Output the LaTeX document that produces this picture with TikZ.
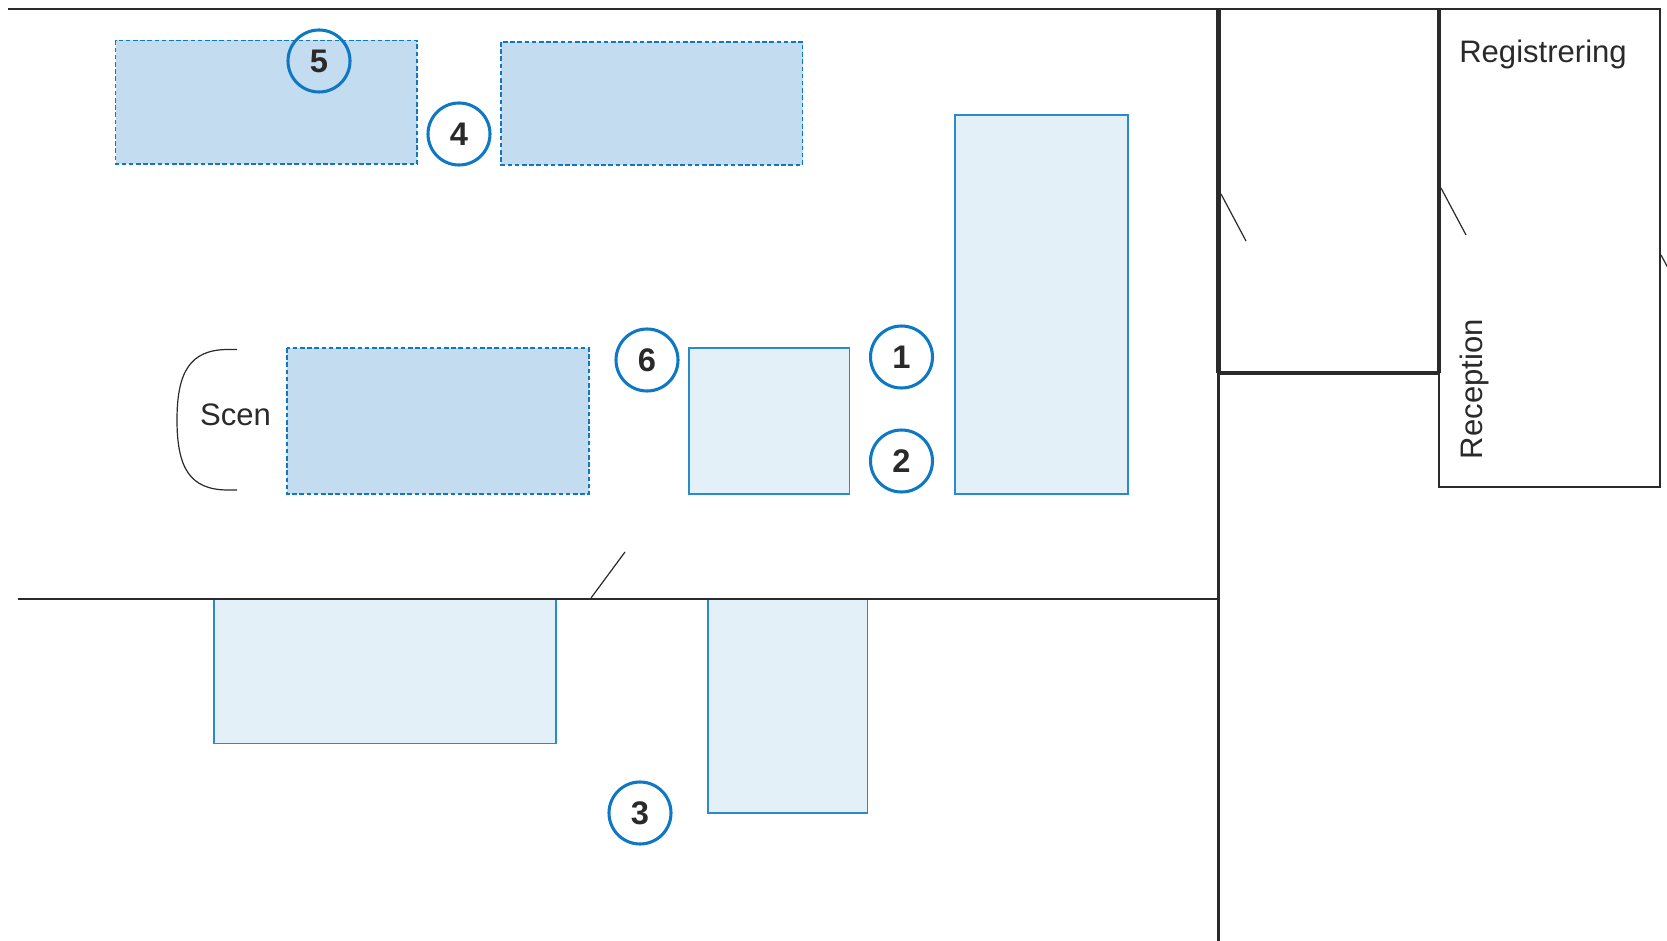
\documentclass[tikz,border=0pt]{standalone}
\usepackage{fontspec}
\setmainfont{Liberation Sans}
\definecolor{bluel}{HTML}{2A8AD0}
\definecolor{bluec}{HTML}{0F78C4}
\definecolor{filld}{HTML}{C4DCEF}
\definecolor{filll}{HTML}{E3F0F8}
\definecolor{wallc}{HTML}{2A2A2A}
\tikzset{
  solidroom/.style={draw=bluel,fill=filll,line width=1pt},
  dashroom/.style={draw=bluec,fill=filld,line width=1pt,dash pattern=on 3.4pt off 2pt},
  wall/.style={draw=wallc,line width=2.2pt},
  thickwall/.style={draw=wallc,line width=3.4pt},
  doorleaf/.style={draw=wallc,line width=0.9pt},
  numcircle/.style={circle,draw=bluec,line width=2.3pt,minimum size=46.5pt,inner sep=0pt,font=\bfseries\fontsize{24.5}{24.5}\selectfont,text=wallc},
  lbl/.style={font=\fontsize{23.3}{23.3}\selectfont,text=wallc,inner sep=0pt}
}
\begin{document}
\begin{tikzpicture}[x=0.75pt,y=-0.75pt]
\useasboundingbox (0,0) rectangle (1667,941);
\fill[white] (0,0) rectangle (1667,941);
% zones
\draw[dashroom] (115.5,40.5) rectangle (417,164);
\draw[dashroom] (501,42) rectangle (802.5,165);
\draw[dashroom] (287,348) rectangle (589,494);
\draw[solidroom] (689,348) rectangle (849.5,494);
\draw[solidroom] (955,115) rectangle (1128,494);
\draw[solidroom] (214,599) rectangle (556,743.5);
\draw[solidroom] (708,599) rectangle (867.5,813);
% walls
\coordinate (tl) at (8,9);
\coordinate (tr) at (1660,9);
\coordinate (wa) at (1218.5,9);
\coordinate (wb) at (1218.5,373);
\coordinate (wc) at (1218.5,941);
\coordinate (wd) at (1439,9);
\coordinate (we) at (1439,373);
\coordinate (wf) at (1439,487);
\coordinate (wg) at (1660,487);
\coordinate (hl) at (18,599);
\coordinate (hr) at (1218.5,599);
\draw[wall] (tl) -- (tr) -- (wg) -- (wf) -- (we);
\draw[wall] (wb) -- (wc);
\draw[wall] (hl) -- (hr);
\draw[thickwall] (wa) -- (wb);
\draw[thickwall] (wd) -- (we);
\draw[wall,line width=2.6pt] (wb) -- (we);
% door leaves
\coordinate (d1a) at (1221,194); \coordinate (d1b) at (1246,241);
\coordinate (d2a) at (1441,188); \coordinate (d2b) at (1466,235);
\coordinate (d3a) at (1661,255); \coordinate (d3b) at (1668,268);
\coordinate (d4a) at (591,598); \coordinate (d4b) at (625,552);
\draw[doorleaf] (d1a) -- (d1b);
\draw[doorleaf] (d2a) -- (d2b);
\draw[doorleaf] (d3a) -- (d3b);
\draw[doorleaf] (d4a) -- (d4b);
% stage curve
\coordinate (ba) at (237,349.5);
\coordinate (bb) at (177,420);
\coordinate (bc) at (237,490);
\draw[doorleaf] (ba) -- (228,349.5) .. controls (190,349.5) and (177,372) .. (177,420)
  .. controls (177,468) and (190,490) .. (228,490) -- (bc);
% labels
\node[lbl,anchor=base] (scen) at (235.5,425) {Scen};
\node[lbl,anchor=base west] (reg) at (1459,63) {Registrering};
\node[lbl,anchor=base west,rotate=90] (rec) at (1482,459.5) {Reception};
% numbers
\node[numcircle] (n1) at (901.5,357) {1};
\node[numcircle] (n2) at (901.5,461) {2};
\node[numcircle] (n3) at (640,813) {3};
\node[numcircle] (n4) at (459,134) {4};
\node[numcircle] (n5) at (319,61) {5};
\node[numcircle] (n6) at (647,360) {6};
\end{tikzpicture}
\end{document}
